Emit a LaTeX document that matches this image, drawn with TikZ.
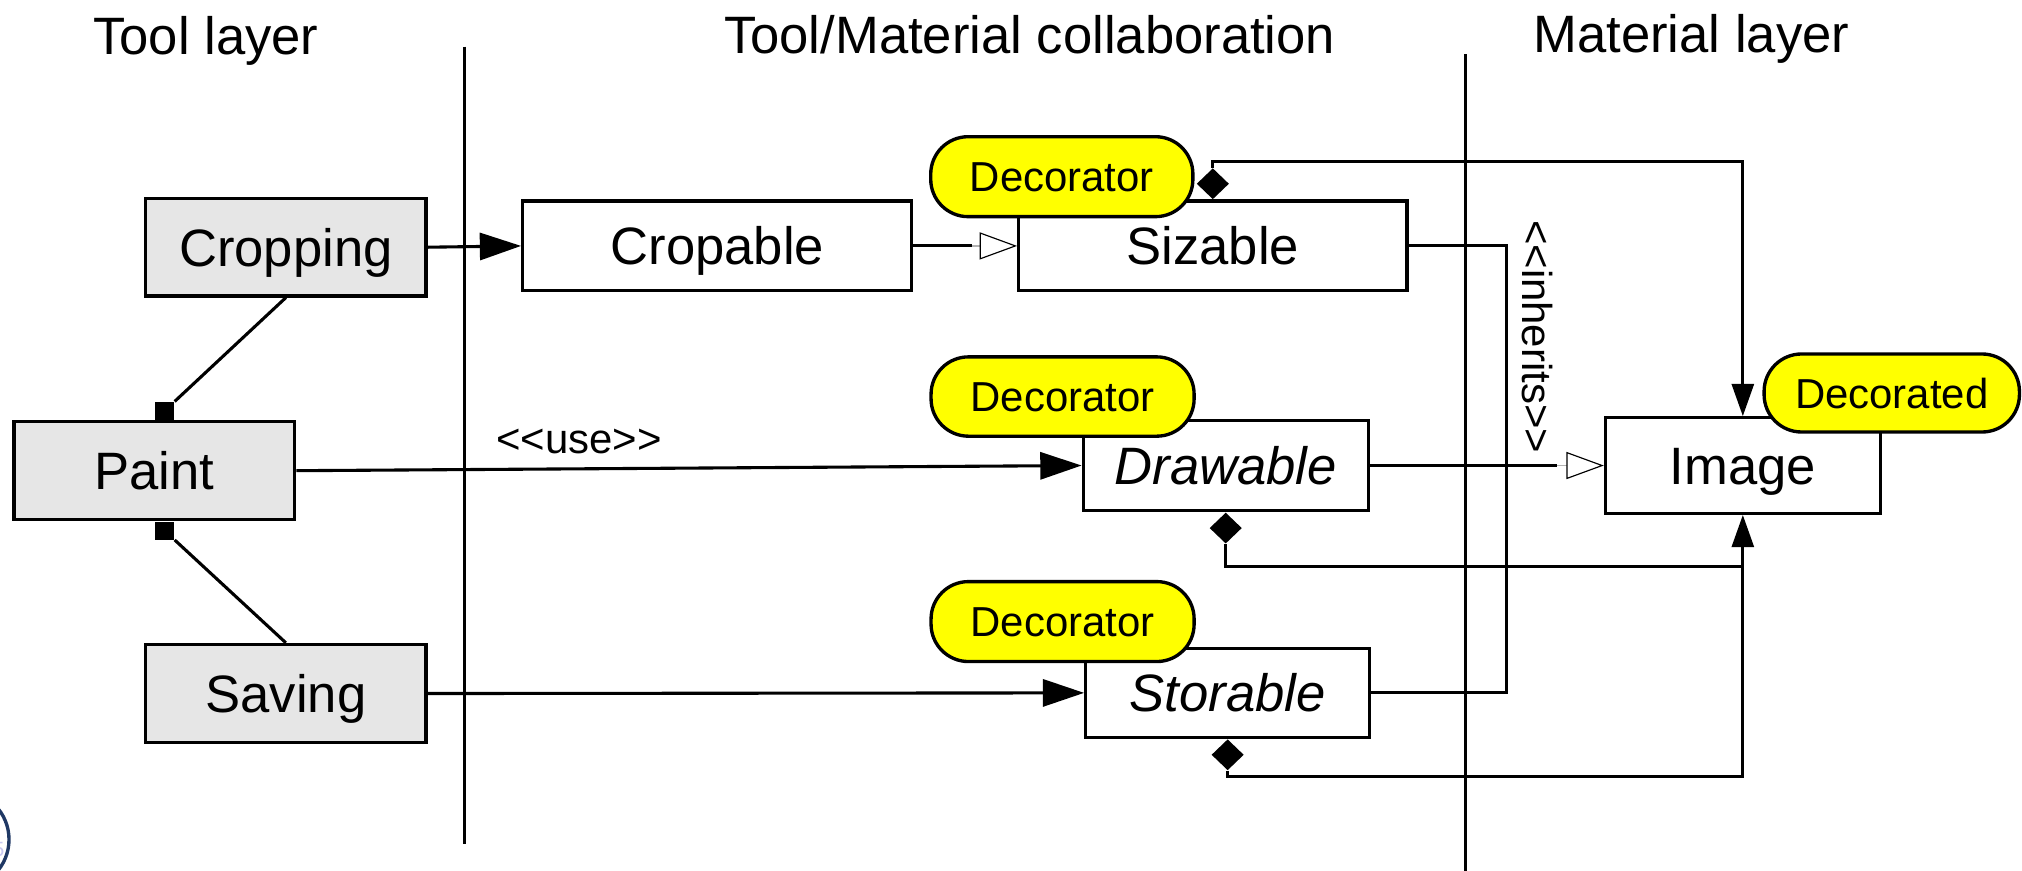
\documentclass[tikz,border=0pt]{standalone}
\usepackage{fontspec}
\setmainfont{Liberation Sans}
\usetikzlibrary{arrows.meta,shapes.geometric}
\definecolor{boxgray}{RGB}{230,230,230}
\definecolor{pillyellow}{RGB}{255,255,0}
\definecolor{navyblue}{RGB}{31,56,100}
\definecolor{faintblue}{RGB}{200,200,240}
\begin{document}
\begin{tikzpicture}[x=1pt,y=-1pt,
  bigfont/.style={font=\fontsize{40.8}{49}\selectfont},
  smallfont/.style={font=\fontsize{32.5}{39}\selectfont},
  big/.style={bigfont, text height=29.2pt, text depth=0pt},
  small/.style={smallfont, text height=23.3pt, text depth=0pt},
  toolbox/.style={draw, line width=2.6pt, fill=boxgray, inner sep=0pt, big},
  matbox/.style={draw, line width=2.6pt, fill=white, inner sep=0pt, big},
  pill/.style={draw, line width=2.6pt, fill=pillyellow, rounded corners=29pt, inner sep=0pt, small},
  sq/.style={fill=black, minimum width=14.7pt, minimum height=14pt, inner sep=0pt},
  diam/.style={diamond, fill=black, minimum width=25pt, minimum height=24pt, inner sep=0pt},
  conn/.style={line width=2.4pt},
  thinconn/.style={line width=0.9pt, draw=black!30},
  sepline/.style={line width=2.5pt},
  bigtip/.tip={Triangle[length=32pt,width=21pt]},
  smalltip/.tip={Triangle[length=25pt,width=17pt]},
  hollowtip/.tip={Triangle[length=29pt,width=21pt,fill=white,color=black,line width=0.9pt]}
]
\useasboundingbox (0,0) rectangle (1568,675);

% column titles
\node[bigfont, anchor=base] (t1) at (159.7,41.9) {Tool layer};
\node[bigfont, anchor=base] (t2) at (798.5,41.5) {Tool/Material collaboration};
\node[bigfont, anchor=base] (t3) at (1311.6,40.8) {Material layer};

% separators
\coordinate (sA1) at (360,36.2);
\coordinate (sA2) at (360,654.5);
\coordinate (sB1) at (1136.3,42);
\coordinate (sB2) at (1136.3,677);
\draw[sepline] (sA1) -- (sA2);
\draw[sepline] (sB1) -- (sB2);

% tool layer boxes
\node[toolbox, minimum width=217.5pt, minimum height=75.5pt] (crop) at (221.7,191.7) {Cropping};
\node[toolbox, minimum width=217.5pt, minimum height=76pt] (paint) at (119.7,365) {Paint};
\node[toolbox, minimum width=217.5pt, minimum height=76pt] (save) at (221.7,537.8) {Saving};

% material boxes
\node[matbox, minimum width=301.6pt, minimum height=69.4pt] (cropable) at (556.2,190.7) {Cropable};
\node[matbox, minimum width=301pt, minimum height=69.4pt] (sizable) at (940.5,190.7) {Sizable};
\node[matbox, minimum width=221pt, minimum height=70pt] (drawable) at (950.5,361) {\itshape Drawable};
\node[matbox, minimum width=220pt, minimum height=69pt] (storable) at (952,537.3) {\itshape Storable};
\node[matbox, minimum width=213pt, minimum height=74pt] (image) at (1351.5,361) {Image};

% aggregation squares on Paint
\node[sq, anchor=south] (qT) at ([xshift=8.2pt]paint.north) {};
\node[sq, anchor=north] (qB) at ([xshift=8.2pt]paint.south) {};
\draw[conn] (crop.south) -- (qT.north east);
\draw[conn] (save.north) -- (qB.south east);

% tool -> material
\draw[conn, -bigtip] (crop.east) -- (cropable.west);
\draw[conn, -bigtip] (paint.east) -- (drawable.west);
\draw[conn, -bigtip] (save.east) -- (storable.west);
\node[smallfont, anchor=base] (use) at (449,351.6) {<\kern0pt<use>\kern0pt>};

% generalisation Cropable -> Sizable
\draw[thinconn, -hollowtip] (cropable.east) -- (sizable.west);
\draw[conn] (cropable.east) -- ([xshift=-35pt]sizable.west);

% inherits tree
\coordinate (ij) at (1168.4,361);
\draw[conn] (sizable.east) -| (ij) |- (storable.east);
\draw[thinconn, -hollowtip] (drawable.east) -- (image.west);
\draw[conn] (drawable.east) -- ([xshift=-36pt]image.west);
\node[smallfont, rotate=-90, anchor=base] (inh) at (1181,261) {<\kern0pt<inherits>\kern0pt>};

% composition diamonds
\node[diam, anchor=south] (dS) at (sizable.north) {};
\node[diam, anchor=north] (dD) at (drawable.south) {};
\node[diam, anchor=north] (dSt) at (storable.south) {};
\coordinate (c1) at (1351.5,125.5);
\coordinate (c2) at (1351.5,439.5);
\coordinate (c3) at (1351.5,602);
\draw[conn, -smalltip] (dS.north) |- (c1) -- (image.north);
\draw[conn, -smalltip] (dD.south) |- (c2) -- (image.south);
\draw[conn] (dSt.south) |- (c3) -- (c2);

% decorator pills
\node[pill, minimum width=203.3pt, minimum height=62pt] (dec1) at (823.4,137) {Decorator};
\node[pill, minimum width=204pt, minimum height=61.5pt] (dec2) at (824,307.5) {Decorator};
\node[pill, minimum width=204pt, minimum height=62pt] (dec3) at (824,482) {Decorator};
\node[pill, minimum width=198pt, minimum height=60.5pt] (deco) at (1467,304.75) {Decorated};

% cropped page badge
\draw[navyblue, line width=2.6pt] (-31,651) circle (38);
\node[text=faintblue, font=\fontsize{16}{19}\selectfont, anchor=base east, inner sep=0pt] (num) at (3.5,664) {5};
\end{tikzpicture}
\end{document}
